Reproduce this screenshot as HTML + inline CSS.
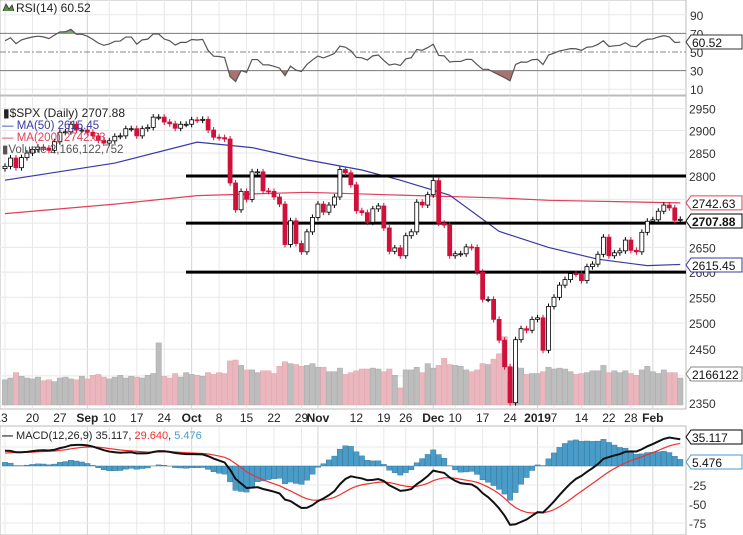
<!DOCTYPE html>
<html><head><meta charset="utf-8"><style>
html,body{margin:0;padding:0;background:#fff;}
svg{display:block;font-family:"Liberation Sans",sans-serif;}
</style></head><body>
<svg id="chart" width="743" height="535" viewBox="0 0 743 535"></svg>
<script>
const closes=[2821,2839,2818,2840,2850,2858,2863,2861,2856,2875,2896,2897,2914,2901,2901,
2896,2888,2878,2872,2877,2887,2888,2904,2904,2888,2904,2907,2930,2930,2919,2915,2905,2914,2914,
2924,2923,2925,2901,2885,2884,2881,2785,2728,2767,2750,2809,2809,2768,2767,2755,2740,2656,2705,2658,2641,2682,2712,
2740,2723,2738,2755,2814,2807,2781,2726,2722,2702,2730,2736,2690,2642,2649,2633,2674,2682,2744,2738,2760,
2790,2700,2696,2633,2637,2637,2651,2650,2600,2546,2546,2507,2467,2417,2351,2468,2489,2486,2507,
2510,2448,2532,2550,2574,2585,2597,2596,2583,2611,2616,2636,2671,2633,2639,2643,2665,2644,2641,2681,2704,
2707,2725,2738,2732,2706,2708];
const volumes=[2.8,3.0,3.6,3.2,3.0,2.9,3.1,2.7,2.8,2.6,3.0,3.1,2.9,2.8,3.2,
2.9,3.3,3.4,3.1,2.9,3.1,3.3,3.0,3.2,3.1,3.0,3.3,3.5,6.9,3.2,3.0,3.5,3.1,3.6,
3.4,3.3,3.2,3.6,3.4,3.6,3.5,4.9,5.0,4.4,3.9,3.9,3.6,3.8,3.8,3.5,4.3,4.8,4.6,4.5,4.3,4.4,4.6,
4.2,4.2,3.7,3.7,4.1,3.4,3.6,3.8,4.0,4.0,4.1,4.0,3.7,4.0,3.3,1.9,3.9,3.9,4.2,3.6,4.6,
4.1,4.4,5.2,4.5,4.4,4.3,3.9,3.7,3.9,4.6,4.5,5.1,5.7,7.6,2.6,4.2,4.1,3.4,3.5,
3.5,3.7,4.2,4.0,4.1,4.0,3.7,3.4,3.5,3.6,3.8,3.8,4.4,3.6,3.8,3.6,3.8,3.5,3.3,3.9,4.3,
3.7,3.5,3.9,3.6,3.6,3.0];
const ma50Idx=[0,20,35,45,55,65,72,81,90,99,108,117,123];
const ma50Val=[2791,2828,2874,2862,2835,2813,2791,2759,2683,2650,2626,2613,2615.45];
const ma200Idx=[0,20,35,55,72,90,99,123];
const ma200Val=[2720,2740,2758,2765,2759,2753,2748,2742.63];
const priceTicks=[2950,2900,2850,2800,2750,2700,2650,2600,2550,2500,2450,2400,2350];
const rsiTicks=[90,70,50,30,10];
const macdTicks=[25,0,-25,-50,-75];
const supportLevels=[2800,2700,2600];
const dateLabels=[["13",0,0],["20",5,0],["27",10,0],["Sep",15,1],["10",19,0],["17",24,0],["24",29,0],["Oct",34,1],["8",39,0],["15",44,0],["22",49,0],["29",54,0],["Nov",57,1],["12",64,0],["19",69,0],["26",73,0],["Dec",78,1],["10",82,0],["17",87,0],["24",92,0],["2019",97,1],["7",100,0],["14",105,0],["22",110,0],["28",114,0],["Feb",118,1]];
const rsiSeed=[9,5.5];
const macdSeed=[20,17];

const svg=document.getElementById('chart');
const NS='http://www.w3.org/2000/svg';
function mk(tag,attrs,parent){const e=document.createElementNS(NS,tag);for(const k in attrs)e.setAttribute(k,attrs[k]);(parent||svg).appendChild(e);return e;}
const R=686;
const xI=i=>5+i*5.49;
const yP=v=>176+(Math.log(2800)-Math.log(v))*1297;
const yR=v=>52-(v-50)*0.93;
const yM=v=>466-v*0.76;
const yV=v=>405-v*9;

let e;
e=mk('rect',{x:0,y:0,width:R,height:95,fill:'#fff',stroke:'#bbb'});

e=mk('rect',{x:0,y:96,width:R,height:313,fill:'#fff',stroke:'#bbb'});

e=mk('rect',{x:0,y:426,width:R,height:109,fill:'#fff',stroke:'#bbb'});


dateLabels.forEach(d=>{
  const x=xI(d[1]);
  [[0,95],[96,409],[426,535]].forEach(r=>{
    e=mk('line',{x1:x,x2:x,y1:r[0],y2:r[1],stroke:d[2]?'#d4d4d4':'#e8e8e8','stroke-width':1});
    
  });
  const t=mk('text',{x:d[1]===0?1:x,y:422,'font-size':12,'text-anchor':'middle',fill:'#222','font-weight':d[2]?'bold':'normal'});
  t.textContent=d[0];
  
});
rsiTicks.forEach(v=>{
  const y=yR(v);
  if(v===70||v===30){e=mk('line',{x1:0,x2:R,y1:y,y2:y,stroke:'#777','stroke-width':1});}
  else if(v===50){e=mk('line',{x1:0,x2:R,y1:y,y2:y,stroke:'#888','stroke-dasharray':'6,2,2,2'});}
  else {e=mk('line',{x1:0,x2:R,y1:y,y2:y,stroke:'#e8e8e8'});}
  
  const t=mk('text',{x:690,y:y+5,'font-size':12,fill:'#333'});t.textContent=v;
  
});
priceTicks.forEach(v=>{
  const y=yP(v);
  e=mk('line',{x1:0,x2:R,y1:y,y2:y,stroke:'#e8e8e8'});
  
  const t=mk('text',{x:689,y:y+5,'font-size':12,fill:'#333'});t.textContent=v;
  
});
macdTicks.forEach(v=>{
  const y=yM(v);
  e=mk('line',{x1:0,x2:R,y1:y,y2:y,stroke:'#e8e8e8'});
  
  if(v<0){const t=mk('text',{x:689,y:y+5,'font-size':12,fill:'#333'});t.textContent=v;
  }
});

volumes.forEach((v,i)=>{
  const up=i===0||closes[i]>=closes[i-1];
  const b=mk('rect',{x:xI(i)-2.7,y:yV(v),width:5.4,height:405-yV(v),fill:up?'#bdbdbd':'#ebb7be',stroke:up?'#aaa':'#e3a3ad','stroke-width':0.5});
  
});

function sparse(idx,vals,color,name){
  const pts=idx.map((ix,k)=>xI(ix)+','+yP(vals[k])).join(' ');
  const p=mk('polyline',{points:pts,fill:'none',stroke:color,'stroke-width':1.2});
  
}
sparse(ma200Idx,ma200Val,'#e0405a','ma200-line');
sparse(ma50Idx,ma50Val,'#3838a8','ma50-line');

supportLevels.forEach(v=>{
  const l=mk('line',{x1:186,x2:R,y1:yP(v),y2:yP(v),stroke:'#000','stroke-width':3});
  
});

closes.forEach((c,i)=>{
  const o=i===0?c-5:closes[i-1];
  const red=c<o;
  const col=red?'#d0103a':'#000';
  const x=xI(i);
  const yT=yP(Math.max(o,c)),yB=yP(Math.min(o,c));
  const w=mk('line',{x1:x,x2:x,y1:yT-3,y2:yB+3,stroke:col,'stroke-width':1});
  
  const b=mk('rect',{x:x-2,y:yT,width:4,height:Math.max(1,yB-yT),fill:red?col:'#fff',stroke:col,'stroke-width':0.8});
  
});

const rsi=[];
let ag=rsiSeed[0],al=rsiSeed[1];
closes.forEach((c,i)=>{
  if(i>0){const d=c-closes[i-1];ag=(ag*13+Math.max(d,0))/14;al=(al*13+Math.max(-d,0))/14;}
  rsi.push(100-100/(1+ag/al));
});
const rsiPts=rsi.map((v,i)=>[xI(i),yR(v)]);
const defs=mk('defs',{});
mk('rect',{x:0,y:yR(30),width:R,height:30},mk('clipPath',{id:'below30'},defs));
mk('rect',{x:0,y:0,width:R,height:yR(70)},mk('clipPath',{id:'above70'},defs));
let area='M'+rsiPts[0][0]+','+yR(30)+' '+rsiPts.map(p=>'L'+p[0]+','+p[1]).join(' ')+' L'+rsiPts[rsiPts.length-1][0]+','+yR(30)+'Z';
e=mk('path',{d:area,fill:'#a8736e','clip-path':'url(#below30)'});

area='M'+rsiPts[0][0]+','+yR(70)+' '+rsiPts.map(p=>'L'+p[0]+','+p[1]).join(' ')+' L'+rsiPts[rsiPts.length-1][0]+','+yR(70)+'Z';
e=mk('path',{d:area,fill:'#7aa86e','clip-path':'url(#above70)'});

e=mk('polyline',{points:rsiPts.map(p=>p.join(',')).join(' '),fill:'none',stroke:'#555','stroke-width':1.2});


let e12=closes[0],e26=closes[0]-macdSeed[0],sig=macdSeed[1];
const macd=[],signal=[];
closes.forEach((c,i)=>{
  if(i>0){e12+=(c-e12)*2/13;e26+=(c-e26)*2/27;sig+=((e12-e26)-sig)*2/10;}
  macd.push(e12-e26);signal.push(sig);
});
macd.forEach((m,i)=>{
  const h=(m-signal[i])*1.6;
  const y0=yM(0),y1=yM(h);
  const b=mk('rect',{x:xI(i)-2.7,y:Math.min(y0,y1),width:5.4,height:Math.abs(y1-y0),fill:'#4a9cc8',stroke:'#2f6f95','stroke-width':0.4});
  
});
e=mk('polyline',{points:signal.map((v,i)=>xI(i)+','+yM(v)).join(' '),fill:'none',stroke:'#f03030','stroke-width':1.2});

e=mk('polyline',{points:macd.map((v,i)=>xI(i)+','+yM(v)).join(' '),fill:'none',stroke:'#111','stroke-width':2});


function vbox(y,txt,color,bold,name){
  const g=mk('g',{});
  
  mk('path',{d:`M${R},${y} L${R+5},${y-7} L742,${y-7} L742,${y+7} L${R+5},${y+7} Z`,fill:'#fff',stroke:color,'stroke-width':1},g);
  const t=mk('text',{x:R+6,y:y+5,'font-size':12,fill:'#111','font-weight':bold?'bold':'normal'},g);t.textContent=txt;
}
vbox(42,'60.52','#333',false,'rsi-value-box');
vbox(yP(2742.63),'2742.63','#e0405a',false,'ma200-value-box');
vbox(221,'2707.88','#000',true,'price-value-box');
vbox(265,'2615.45','#3838a8',false,'ma50-value-box');
vbox(374,'2166122','#888',false,'volume-value-box');
vbox(437,'35.117','#000',false,'macd-value-box');
vbox(462,'5.476','#4a9cc8',false,'histogram-value-box');

function txt(x,y,s,color,name,size){const t=mk('text',{x:x,y:y,'font-size':size||12,fill:color});t.textContent=s;return t;}
e=mk('polyline',{points:'3,11 6,4 9,9 12,5 14,11',fill:'#5a8a4a',stroke:'#333','stroke-width':0.8});

txt(16,12,'RSI(14) 60.52','#222','rsi-legend',12);
txt(3,117,'▮$SPX (Daily) 2707.88','#222','price-legend',12);
txt(2,129,'— MA(50) 2615.45','#3838a8','ma50-legend',11.5);
txt(2,141,'— MA(200) 2742.63','#e0405a','ma200-legend',11.5);
txt(2,153,'▮Volume 2,166,122,752','#555','volume-legend',11.5);
const ml=mk('text',{x:2,y:439,'font-size':11,fill:'#222'});

ml.innerHTML='<tspan font-weight="bold">—</tspan> MACD(12,26,9) 35.117, <tspan fill="#f03030">29.640</tspan>, <tspan fill="#4a9cc8">5.476</tspan>';
</script>
</body></html>
